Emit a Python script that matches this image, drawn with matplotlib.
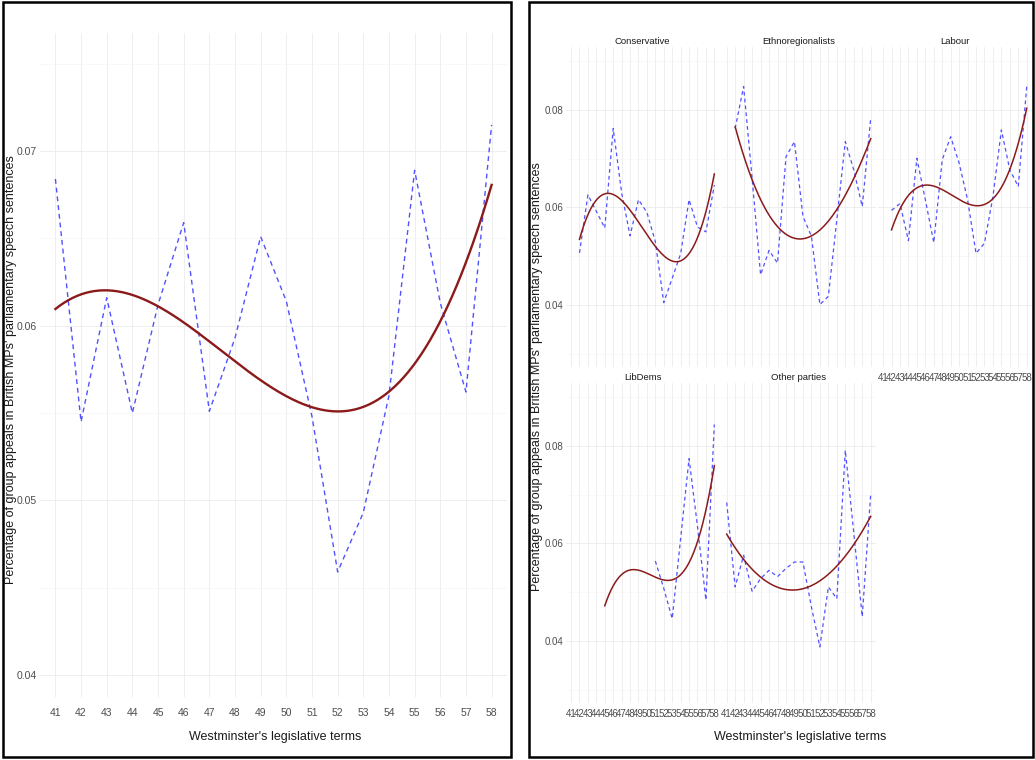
import matplotlib
matplotlib.use('Agg')
import matplotlib.pyplot as plt
import numpy as np
from matplotlib.patches import Rectangle

plt.rcParams['font.family'] = ['Liberation Sans', 'DejaVu Sans']

nan = np.nan
terms = list(range(41, 59))
term_labels = [str(t) for t in terms]

# all MPs, left panel
overall = [0.0684, 0.0545, 0.0616, 0.0550, 0.0612, 0.0659, 0.0551, 0.0593, 0.0651,
           0.0614, 0.0548, 0.0459, 0.0493, 0.0560, 0.0689, 0.0613, 0.0562, 0.0715]
overall_trend = [0.0610, 0.0617, 0.0620, 0.0618, 0.0611, 0.0602, 0.0593, 0.0580, 0.0568,
                 0.0558, 0.0553, 0.0550, 0.0554, 0.0563, 0.0578, 0.0603, 0.0638, 0.0679]

# by party, right panel
conservative = [nan, 0.0507, 0.0626, 0.0592, 0.0558, 0.0762, 0.0630, 0.0542, 0.0616,
                0.0590, 0.0530, 0.0405, 0.0455, 0.0505, 0.0616, 0.0560, 0.0550, 0.0646]
conservative_trend = [nan, 0.0528, 0.0590, 0.0619, 0.0629, 0.0628, 0.0616, 0.0594, 0.0568,
                      0.0541, 0.0517, 0.0498, 0.0489, 0.0493, 0.0510, 0.0544, 0.0592, 0.0663]
ethno = [nan, 0.0762, 0.0848, 0.0660, 0.0462, 0.0512, 0.0486, 0.0704, 0.0735,
         0.0582, 0.0541, 0.0401, 0.0418, 0.0575, 0.0735, 0.0677, 0.0602, 0.0783]
ethno_trend = [nan, 0.0762, 0.0708, 0.0660, 0.0619, 0.0585, 0.0559, 0.0543, 0.0535,
               0.0535, 0.0542, 0.0554, 0.0573, 0.0597, 0.0626, 0.0660, 0.0698, 0.0740]
labour = [nan, 0.0594, 0.0608, 0.0532, 0.0701, 0.0616, 0.0528, 0.0698, 0.0745,
          0.0691, 0.0616, 0.0506, 0.0527, 0.0622, 0.0759, 0.0677, 0.0643, 0.0848]
labour_trend = [nan, 0.0558, 0.0595, 0.0621, 0.0637, 0.0646, 0.0646, 0.0640, 0.0629,
                0.0618, 0.0607, 0.0602, 0.0603, 0.0616, 0.0640, 0.0681, 0.0735, 0.0801]
libdems = [nan, nan, nan, nan, nan, nan, nan, nan, nan,
           nan, 0.0564, 0.0508, 0.0446, 0.0610, 0.0774, 0.0635, 0.0484, 0.0844]
libdems_trend = [nan, nan, nan, nan, 0.0468, 0.0515, 0.0541, 0.0549, 0.0545,
                 0.0537, 0.0528, 0.0523, 0.0523, 0.0535, 0.0562, 0.0610, 0.0672, 0.0754]
other = [0.0684, 0.0511, 0.0576, 0.0502, 0.0528, 0.0545, 0.0532, 0.0549, 0.0562,
         0.0562, 0.0470, 0.0388, 0.0511, 0.0487, 0.0791, 0.0622, 0.0450, 0.0702]
other_trend = [0.0617, 0.0591, 0.0569, 0.0549, 0.0532, 0.0519, 0.0511, 0.0506, 0.0504,
               0.0506, 0.0511, 0.0521, 0.0535, 0.0554, 0.0576, 0.0603, 0.0631, 0.0648]

parties = ['Conservative', 'Ethnoregionalists', 'Labour', 'LibDems', 'Other parties']
party_values = [conservative, ethno, labour, libdems, other]
party_trends = [conservative_trend, ethno_trend, labour_trend, libdems_trend, other_trend]

left_major = [0.04, 0.05, 0.06, 0.07]
left_major_labels = ['0.04', '0.05', '0.06', '0.07']
left_minor = [0.045, 0.055, 0.065, 0.075]
right_major = [0.04, 0.06, 0.08]
right_major_labels = ['0.04', '0.06', '0.08']
right_minor = [0.03, 0.05, 0.07, 0.09]

ylabel = "Percentage of group appeals in British MPs' parliamentary speech sentences"
xlabel = "Westminster's legislative terms"

BLUE = '#5252ff'
RED = '#8b1a1a'
GRID = '#ebebeb'
TICK = '#4d4d4d'
W, H = 1035, 760

fig = plt.figure(figsize=(W / 100, H / 100), dpi=100)


def px_axes(x0, y0, x1, y1):
    return fig.add_axes([x0 / W, 1 - y1 / H, (x1 - x0) / W, (y1 - y0) / H])


def draw(ax, values, trend, lw_line, lw_smooth, dash):
    x = np.array(terms, dtype=float)
    ax.plot(x, np.array(values, dtype=float), color=BLUE, lw=lw_line,
            linestyle=(0, dash), zorder=3)
    t = np.array(trend, dtype=float)
    ok = ~np.isnan(t)
    coef = np.polyfit(x[ok], t[ok], 3)
    xs = np.linspace(x[ok].min(), x[ok].max(), 200)
    ax.plot(xs, np.polyval(coef, xs), color=RED, lw=lw_smooth, zorder=4)


def style(ax, ylim, major, major_labels, minor, show_x, show_y, size):
    ax.set_xlim(40.4, 58.6)
    ax.set_ylim(*ylim)
    ax.set_xticks(terms)
    ax.set_yticks(major)
    ax.set_yticks(minor, minor=True)
    ax.grid(True, which='major', color=GRID, lw=0.6)
    ax.grid(True, which='minor', axis='y', color='#f3f3f3', lw=0.4)
    ax.set_axisbelow(True)
    for s in ax.spines.values():
        s.set_visible(False)
    ax.tick_params(which='both', length=0, colors=TICK, labelsize=size)
    ax.tick_params(axis='y', pad=2)
    ax.tick_params(axis='x', pad=4)
    if show_x:
        ax.set_xticklabels(term_labels)
    else:
        ax.set_xticklabels([])
    if show_y:
        ax.set_yticklabels(major_labels)
    else:
        ax.set_yticklabels([])


# left panel
axl = px_axes(40, 33, 507, 697)
draw(axl, overall, overall_trend, 1.0, 1.7, (3.5, 2.8))
style(axl, (0.03874, 0.07676), left_major, left_major_labels, left_minor, True, True, 7.5)
axl.tick_params(axis='x', pad=8)

fig.text(275 / W, 1 - 737 / H, xlabel, ha='center', va='center', fontsize=9, color='#1a1a1a')
fig.text(11 / W, 1 - 370 / H, ylabel, ha='center', va='center', rotation=90,
         fontsize=9, color='#1a1a1a')

# right panel: facets
cols = [(566, 719.4), (721.6, 875.8), (878, 1031.8)]
rows = [(47, 367), (383, 703)]
for i, name in enumerate(parties):
    r, c = divmod(i, 3)
    ax = px_axes(cols[c][0], rows[r][0], cols[c][1], rows[r][1])
    draw(ax, party_values[i], party_trends[i], 0.9, 1.1, (3, 2.5))
    show_x = (r == 1) or (c == 2)
    style(ax, (0.0273, 0.0929), right_major, right_major_labels, right_minor,
          show_x, c == 0, 7)
    ax.set_title(name, fontsize=6.8, pad=2.5, color='#1a1a1a')

fig.text(800 / W, 1 - 737 / H, xlabel, ha='center', va='center', fontsize=9, color='#1a1a1a')
fig.text(537 / W, 1 - 377 / H, ylabel, ha='center', va='center', rotation=90,
         fontsize=9, color='#1a1a1a')

# black frames around both panels
for x0, x1 in [(3, 511), (529, 1033)]:
    fig.patches.append(Rectangle((x0 / W, 1 - 757 / H), (x1 - x0) / W, 755 / H,
                                 transform=fig.transFigure, fill=False,
                                 edgecolor='black', lw=1.8))

fig.savefig('out.png', dpi=100, facecolor='white')
